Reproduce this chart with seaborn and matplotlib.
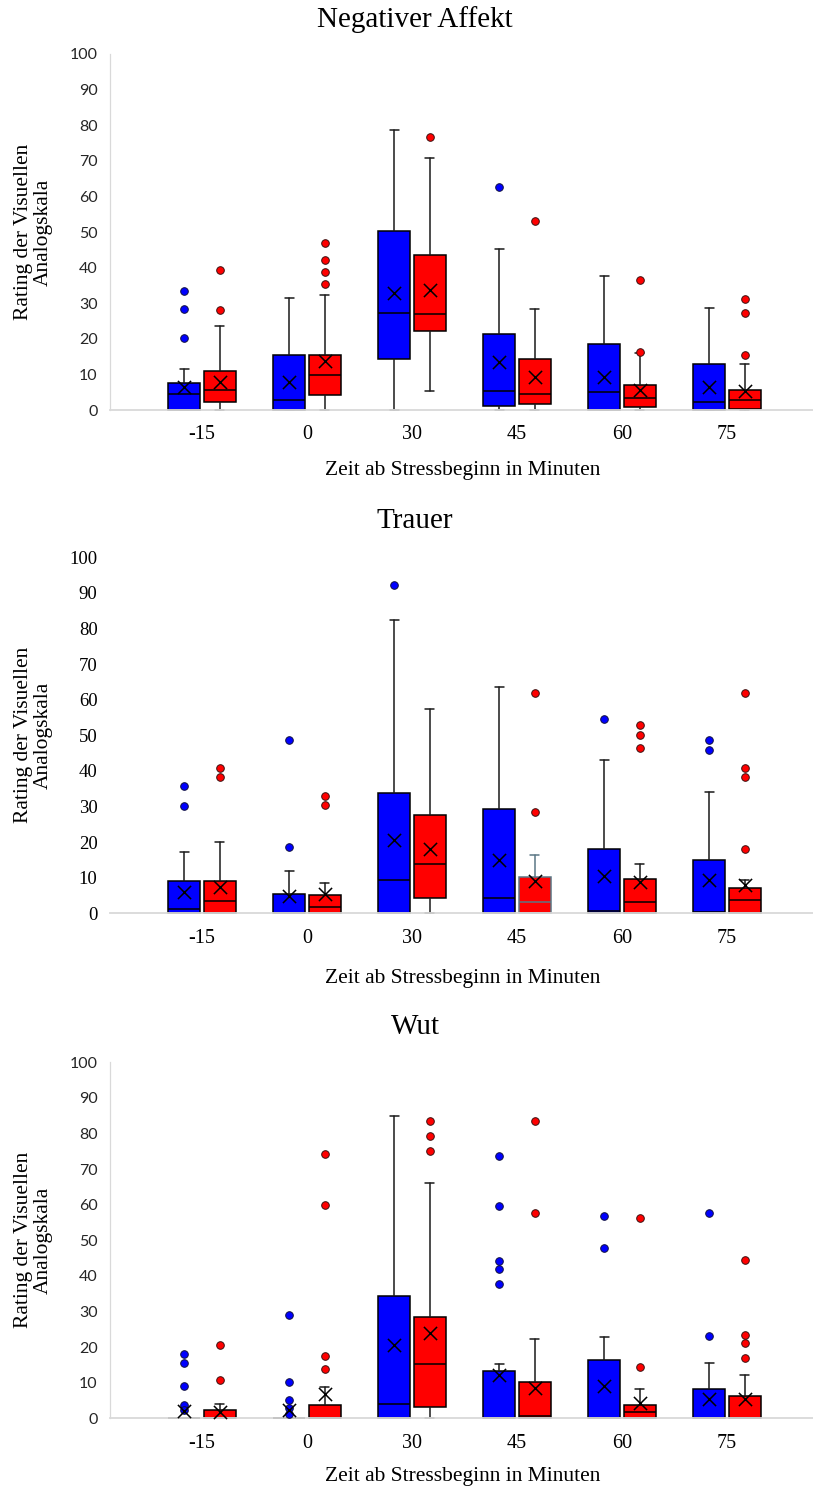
import matplotlib
matplotlib.use("Agg")
import matplotlib.pyplot as plt
import seaborn as sns
import pandas as pd
import numpy as np

# ---------------- data ----------------
times = ["-15", "0", "30", "45", "60", "75"]
titles = ["Negativer Affekt", "Trauer", "Wut"]

# Negativer Affekt
na_blue_whislo = [0, 0, 0, 0, 0, 0]
na_blue_q1 = [0, 0, 14.3, 1.0, 0, 0]
na_blue_med = [4.5, 2.7, 27.2, 5.3, 5.0, 2.2]
na_blue_q3 = [7.7, 15.5, 50.3, 21.3, 18.6, 12.9]
na_blue_whishi = [11.4, 31.5, 78.7, 45.2, 37.6, 28.6]
na_blue_mean = [6.6, 7.9, 32.8, 13.4, 9.4, 6.6]
na_blue_out = [[33.3, 28.3, 20.2], [], [], [62.5], [], []]

na_red_whislo = [0, 0, 5.4, 0, 0, 0]
na_red_q1 = [2.2, 4.2, 22.1, 1.6, 0.9, 0.4]
na_red_med = [5.6, 9.9, 26.9, 4.5, 3.3, 2.8]
na_red_q3 = [11.0, 15.5, 43.6, 14.3, 6.9, 5.6]
na_red_whishi = [23.5, 32.2, 70.8, 28.3, 15.9, 12.8]
na_red_mean = [8.0, 13.8, 33.8, 9.4, 5.6, 5.4]
na_red_out = [[39.4, 28.0], [46.9, 42.0, 38.7, 35.5], [76.6], [53.2], [36.6, 16.3], [31.1, 27.2, 15.4]]

# Trauer
tr_blue_whislo = [0, 0, 0, 0, 0, 0]
tr_blue_q1 = [0, 0, 0, 0, 0, 0]
tr_blue_med = [1.1, 0.2, 9.4, 4.2, 0.7, 0.3]
tr_blue_q3 = [9.2, 5.4, 33.8, 29.4, 18.2, 15.0]
tr_blue_whishi = [17.1, 11.8, 82.4, 63.5, 43.0, 34.1]
tr_blue_mean = [5.9, 4.9, 20.6, 15.0, 10.6, 9.3]
tr_blue_out = [[35.8, 30.0], [48.8, 18.5], [92.1], [], [54.5], [48.8, 45.9]]

tr_red_whislo = [0, 0, 0, 0, 0, 0]
tr_red_q1 = [0, 0, 4.2, 0, 0, 0]
tr_red_med = [3.4, 1.8, 13.8, 3.1, 3.1, 3.6]
tr_red_q3 = [9.2, 5.1, 27.7, 10.1, 9.6, 7.0]
tr_red_whishi = [20.0, 8.4, 57.3, 16.4, 13.8, 9.4]
tr_red_mean = [7.3, 5.4, 18.0, 9.0, 8.9, 8.0]
tr_red_out = [[40.7, 38.2], [32.9, 30.4], [], [61.8, 28.4], [52.8, 50.1, 46.3], [61.8, 40.7, 38.3, 18.2]]

# Wut
wu_blue_whislo = [0, 0, 0, 0, 0, 0]
wu_blue_q1 = [0, 0, 0, 0, 0, 0]
wu_blue_med = [0, 0, 4.0, 0, 0, 0]
wu_blue_q3 = [0, 0, 34.4, 13.4, 16.3, 8.1]
wu_blue_whishi = [0, 0, 84.9, 15.3, 22.8, 15.5]
wu_blue_mean = [2.0, 2.2, 20.6, 12.1, 9.1, 5.4]
wu_blue_out = [[18.2, 15.5, 9.1, 3.6, 2.2], [29.1, 10.2, 5.1, 3.0, 1.2], [],
               [73.7, 59.6, 44.3, 42.0, 37.8], [56.9, 47.9], [57.6, 23.2]]

wu_red_whislo = [0, 0, 0, 0, 0, 0]
wu_red_q1 = [0, 0, 3.3, 0, 0, 0]
wu_red_med = [0, 0, 15.3, 0.7, 1.8, 0]
wu_red_q3 = [2.3, 3.6, 28.5, 10.2, 3.7, 6.3]
wu_red_whishi = [3.9, 8.7, 66.0, 22.2, 8.3, 12.1]
wu_red_mean = [1.9, 6.7, 24.1, 8.6, 4.4, 5.4]
wu_red_out = [[20.5, 10.8], [74.3, 59.9, 17.4, 13.8], [83.6, 79.3, 75.0],
              [83.6, 57.6], [56.2, 14.4], [44.5, 23.5, 21.2, 16.9]]

panels = [
    {"blue": (na_blue_whislo, na_blue_q1, na_blue_med, na_blue_q3, na_blue_whishi, na_blue_mean, na_blue_out),
     "red": (na_red_whislo, na_red_q1, na_red_med, na_red_q3, na_red_whishi, na_red_mean, na_red_out)},
    {"blue": (tr_blue_whislo, tr_blue_q1, tr_blue_med, tr_blue_q3, tr_blue_whishi, tr_blue_mean, tr_blue_out),
     "red": (tr_red_whislo, tr_red_q1, tr_red_med, tr_red_q3, tr_red_whishi, tr_red_mean, tr_red_out)},
    {"blue": (wu_blue_whislo, wu_blue_q1, wu_blue_med, wu_blue_q3, wu_blue_whishi, wu_blue_mean, wu_blue_out),
     "red": (wu_red_whislo, wu_red_q1, wu_red_med, wu_red_q3, wu_red_whishi, wu_red_mean, wu_red_out)},
]

# ---------------- style ----------------
sns.set_style("white")
SERIF = ["Liberation Serif", "DejaVu Serif"]
SANS = ["Lato", "DejaVu Sans"]
plt.rcParams["font.family"] = SERIF
plt.rcParams["text.color"] = "black"
plt.rcParams["axes.labelcolor"] = "black"
plt.rcParams["xtick.color"] = "black"
plt.rcParams["ytick.color"] = "black"

COLORS = {"blue": "#0000FF", "red": "#FF0000"}
OFFSET = {"blue": -0.167, "red": 0.167}
EDGE_OVERRIDE = {(1, "red", 3): "#5b7785"}

W, H = 813, 1490
fig = plt.figure(figsize=(W / 100, H / 100), dpi=100)

# pixel layout: (axes top px [value 100], axes bottom px [value 0])
layout = [(54, 410), (557.3, 913.3), (1062.3, 1418.3)]
title_y = [20, 521, 1027]
xlabel_y = [470, 978, 1477]
tick_font = [SANS, SERIF, SANS]
tick_size = [11.5, 13.5, 11.5]
tick_color = ["#262626", "#000000", "#262626"]
show_left = [True, False, True]

AX_LEFT = 110
for p, panel in enumerate(panels):
    top, bot = layout[p]
    ax = fig.add_axes([AX_LEFT / W, 1 - bot / H, (W - AX_LEFT) / W, (bot - top) / H])
    ax.set_facecolor("white")

    for grp in ["blue", "red"]:
        whislo, q1, med, q3, whishi, mean, out = panel[grp]
        stats = [dict(whislo=whislo[i], q1=q1[i], med=med[i], q3=q3[i], whishi=whishi[i], fliers=[])
                 for i in range(len(times))]
        pos = [i + OFFSET[grp] for i in range(len(times))]
        res = ax.bxp(stats, positions=pos, widths=0.305, patch_artist=True,
                     showfliers=False, showmeans=False, capwidths=0.08,
                     boxprops=dict(facecolor=COLORS[grp], edgecolor="black", linewidth=1.1),
                     medianprops=dict(color="black", linewidth=1.1),
                     whiskerprops=dict(color="#1a1a1a", linewidth=1.1),
                     capprops=dict(color="#1a1a1a", linewidth=1.1))
        for key, arts in res.items():
            for a in arts:
                a.set_clip_on(False)
        for (pp, g, idx), col in EDGE_OVERRIDE.items():
            if pp == p and g == grp:
                res["boxes"][idx].set_edgecolor(col)
                res["medians"][idx].set_color(col)
                for k in (2 * idx, 2 * idx + 1):
                    res["whiskers"][k].set_color(col)
                    res["caps"][k].set_color(col)

        # outliers
        orows = [{"x": i + OFFSET[grp], "y": v} for i in range(len(times)) for v in out[i]]
        if orows:
            odf = pd.DataFrame(orows)
            sns.scatterplot(data=odf, x="x", y="y", ax=ax, color=COLORS[grp], s=30,
                            edgecolor="#3a1010" if grp == "red" else "#101040",
                            linewidth=0.7, zorder=6, clip_on=False, legend=False)
        # means
        mdf = pd.DataFrame({"x": pos, "y": mean})
        sns.scatterplot(data=mdf, x="x", y="y", ax=ax, marker="x", color="black", s=90,
                        linewidth=1.1, zorder=7, clip_on=False, legend=False)

    ax.set_xlim(-0.876, 5.819)
    ax.set_ylim(0, 100)
    ax.set_yticks(range(0, 101, 10))
    ax.set_yticklabels([str(v) for v in range(0, 101, 10)], fontfamily=tick_font[p],
                       fontsize=tick_size[p], color=tick_color[p])
    ax.set_xticks(range(len(times)))
    ax.set_xticklabels(times, fontfamily=SERIF, fontsize=14.5, color="black")
    ax.tick_params(axis="both", length=0)
    ax.tick_params(axis="x", pad=11)
    ax.tick_params(axis="y", pad=9)
    ax.set_xlabel("")
    ax.set_ylabel("")
    ax.grid(False)
    for s in ["top", "right"]:
        ax.spines[s].set_visible(False)
    ax.spines["bottom"].set_color("#d9d9d9")
    ax.spines["bottom"].set_linewidth(1.3)
    ax.spines["bottom"].set_zorder(5)
    if show_left[p]:
        ax.spines["left"].set_color("#d9d9d9")
        ax.spines["left"].set_linewidth(0.9)
    else:
        ax.spines["left"].set_visible(False)

    fig.text(415 / W, 1 - title_y[p] / H, titles[p], ha="center", va="center",
             fontsize=21, fontfamily=SERIF, color="black")
    fig.text(463 / W, 1 - xlabel_y[p] / H, "Zeit ab Stressbeginn in Minuten", ha="center",
             va="center", fontsize=15.5, fontfamily=SERIF, color="black")
    fig.text(33 / W, 1 - ((top + bot) / 2) / H, "Rating der Visuellen\nAnalogskala",
             rotation=90, ha="center", va="center", multialignment="center",
             fontsize=15.5, fontfamily=SERIF, linespacing=1.05, color="black")

fig.savefig("out.png", dpi=100)
